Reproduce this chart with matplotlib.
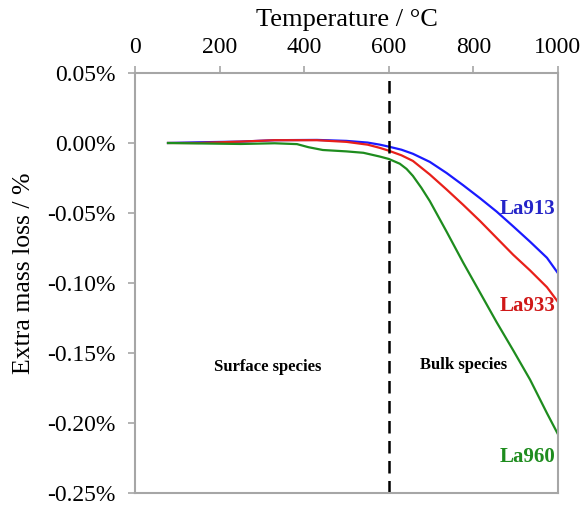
import matplotlib
matplotlib.use("Agg")
import matplotlib.pyplot as plt
from matplotlib.ticker import FuncFormatter

plt.rcParams['font.family'] = ['Liberation Serif', 'DejaVu Serif']

t_blue = [78, 150, 250, 330, 430, 500, 550, 579, 600, 630, 657, 697, 737, 776, 816, 855, 894, 934, 974, 1000]
v_blue = [0, 0.0005, 0.001, 0.002, 0.0022, 0.0015, 0.0003, -0.0012, -0.0026, -0.0048, -0.0077, -0.0135, -0.0215, -0.0302, -0.0395, -0.049, -0.0595, -0.0705, -0.082, -0.093]

t_red = [78, 150, 250, 330, 430, 500, 550, 579, 600, 630, 657, 697, 737, 776, 816, 855, 894, 934, 974, 1000]
v_red = [0, 0.0, 0.001, 0.002, 0.002, 0.0008, -0.0012, -0.0035, -0.0055, -0.0088, -0.0128, -0.0225, -0.0333, -0.0442, -0.0558, -0.0678, -0.0798, -0.091, -0.103, -0.1135]

t_green = [78, 150, 250, 330, 383, 410, 444, 500, 540, 579, 600, 626, 642, 657, 677, 697, 737, 776, 816, 855, 894, 934, 974, 1000]
v_green = [0, -0.0003, -0.0007, -0.0002, -0.0008, -0.003, -0.005, -0.006, -0.007, -0.0097, -0.0114, -0.0148, -0.0185, -0.0235, -0.032, -0.0415, -0.0635, -0.0855, -0.107, -0.128, -0.148, -0.169, -0.193, -0.208]

x_ticks = [0, 200, 400, 600, 800, 1000]
y_ticks = [0.05, 0.0, -0.05, -0.10, -0.15, -0.20, -0.25]

c_blue = '#1a1aff'
c_red = '#e8201a'
c_green = '#1e8c1e'
gray = '#a6a6a6'

fig = plt.figure(figsize=(5.8, 5.09), dpi=100)
ax = fig.add_axes([0.2328, 0.0314, 0.962 - 0.2328, 0.8566 - 0.0314])

ax.plot(t_blue, v_blue, color=c_blue, lw=1.6)
ax.plot(t_red, v_red, color=c_red, lw=1.6)
ax.plot(t_green, v_green, color=c_green, lw=1.6)
ax.axvline(600, color='black', lw=1.8, ls=(0, (5, 3)))

ax.set_xlim(0, 1000)
ax.set_ylim(-0.25, 0.05)
ax.set_xticks(x_ticks)
ax.set_yticks(y_ticks)
ax.yaxis.set_major_formatter(FuncFormatter(lambda v, p: f"{v:.2f}%".replace("-0.00", "0.00")))
ax.xaxis.tick_top()
ax.xaxis.set_label_position('top')
ax.tick_params(axis='both', direction='out', length=5, width=1.2, color=gray, labelsize=17)
ax.tick_params(axis='y', pad=9)
ax.tick_params(axis='x', pad=6)
for s in ax.spines.values():
    s.set_color(gray)
    s.set_linewidth(1.5)

ax.set_xlabel('Temperature / °C', fontsize=19, labelpad=8)
fig.text(24 / 580, 1 - 273 / 509, 'Extra mass loss / %', fontsize=18.5, rotation=90, ha='center', va='center')

ax.text(927, -0.0468, 'La913', color='#2424c8', fontsize=15, fontweight='bold', ha='center', va='center')
ax.text(927, -0.1165, 'La933', color='#d01818', fontsize=15, fontweight='bold', ha='center', va='center')
ax.text(927, -0.224, 'La960', color='#1e8c1e', fontsize=15, fontweight='bold', ha='center', va='center')
ax.text(313, -0.1603, 'Surface species', color='black', fontsize=12, fontweight='bold', ha='center', va='center')
ax.text(776, -0.1586, 'Bulk species', color='black', fontsize=12, fontweight='bold', ha='center', va='center')

fig.savefig('out.png', dpi=100)
